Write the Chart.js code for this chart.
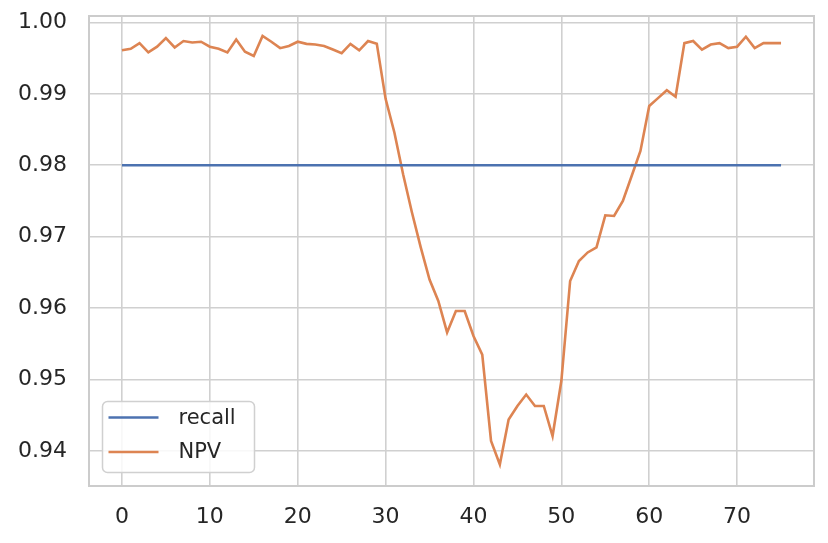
<!DOCTYPE html>
<html>
<head>
<meta charset="utf-8">
<script src="https://cdn.jsdelivr.net/npm/chart.js@4"></script>
<style>
  html, body { margin: 0; padding: 0; background: #ffffff; }
  #wrap { width: 828px; height: 543px; position: relative; }
</style>
</head>
<body>
<div id="wrap"><canvas id="chart"></canvas></div>
<script>
// values
const npv = [
  0.9961, 0.9963, 0.9971, 0.9958, 0.9966, 0.9978, 0.9965, 0.9974, 0.9972, 0.9973,
  0.9966, 0.9963, 0.9958, 0.9976, 0.9959, 0.9953, 0.9981, 0.9973, 0.9964, 0.9967,
  0.9973, 0.9970, 0.9969, 0.9967, 0.9962, 0.9957, 0.9970, 0.9961, 0.9974, 0.9970,
  0.9893, 0.9846, 0.9787, 0.9734, 0.9685, 0.9640, 0.9610, 0.9566, 0.9596, 0.9596,
  0.9561, 0.9535, 0.9414, 0.9381, 0.9444, 0.9463, 0.9479, 0.9463, 0.9463, 0.9421,
  0.9498, 0.9638, 0.9666, 0.9678, 0.9685, 0.9730, 0.9729, 0.9750, 0.9785, 0.9820,
  0.9883, 0.9894, 0.9905, 0.9896, 0.9971, 0.9974, 0.9962, 0.9969, 0.9971, 0.9964,
  0.9966, 0.9980, 0.9964, 0.9971, 0.9971, 0.9971
];
const recall = [
  0.98, 0.98, 0.98, 0.98, 0.98, 0.98, 0.98, 0.98, 0.98, 0.98,
  0.98, 0.98, 0.98, 0.98, 0.98, 0.98, 0.98, 0.98, 0.98, 0.98,
  0.98, 0.98, 0.98, 0.98, 0.98, 0.98, 0.98, 0.98, 0.98, 0.98,
  0.98, 0.98, 0.98, 0.98, 0.98, 0.98, 0.98, 0.98, 0.98, 0.98,
  0.98, 0.98, 0.98, 0.98, 0.98, 0.98, 0.98, 0.98, 0.98, 0.98,
  0.98, 0.98, 0.98, 0.98, 0.98, 0.98, 0.98, 0.98, 0.98, 0.98,
  0.98, 0.98, 0.98, 0.98, 0.98, 0.98, 0.98, 0.98, 0.98, 0.98,
  0.98, 0.98, 0.98, 0.98, 0.98, 0.98
];
const xTicks = [0, 10, 20, 30, 40, 50, 60, 70];
const yTicks = [0.94, 0.95, 0.96, 0.97, 0.98, 0.99, 1.00];

const epochs = npv.map((_, i) => i);
const toPoints = (arr) => arr.map((v, i) => ({ x: epochs[i], y: v }));

const FONT = "'DejaVu Sans', sans-serif";
const TEXT = "#262626";
const GRID = "#d0d0d0";

// full box around the plot area, like the matplotlib spines
const framePlugin = {
  id: "frame",
  beforeDatasetsDraw(chart) {
    const { ctx, chartArea: a } = chart;
    ctx.save();
    ctx.strokeStyle = "#cccccc";
    ctx.lineWidth = 2;
    ctx.strokeRect(a.left, a.top, a.right - a.left, a.bottom - a.top);
    ctx.restore();
  },
};

// legend box in the lower left corner of the plot
const innerLegend = {
  id: "innerLegend",
  afterDatasetsDraw(chart) {
    const { ctx, chartArea: a } = chart;
    const x = a.left + 13.5;
    const y = a.bottom - 84.5;
    const w = 152, h = 71, r = 5;
    ctx.save();
    ctx.beginPath();
    ctx.roundRect(x, y, w, h, r);
    ctx.fillStyle = "rgba(255,255,255,0.85)";
    ctx.fill();
    ctx.strokeStyle = "#d0d0d0";
    ctx.lineWidth = 1.5;
    ctx.stroke();
    ctx.font = "21px " + FONT;
    ctx.textBaseline = "middle";
    ctx.fillStyle = TEXT;
    chart.data.datasets.forEach((ds, i) => {
      const ly = y + 16 + i * 34.5;
      ctx.beginPath();
      ctx.moveTo(x + 6, ly);
      ctx.lineTo(x + 56, ly);
      ctx.strokeStyle = ds.borderColor;
      ctx.lineWidth = ds.borderWidth;
      ctx.stroke();
      ctx.fillText(ds.label, x + 76, ly + 1);
    });
    ctx.restore();
  },
};

new Chart(document.getElementById("chart"), {
  type: "line",
  data: {
    datasets: [
      {
        label: "recall",
        data: toPoints(recall),
        borderColor: "#4c72b0",
        borderWidth: 2.6,
        pointRadius: 0,
        tension: 0,
      },
      {
        label: "NPV",
        data: toPoints(npv),
        borderColor: "#dd8452",
        borderWidth: 2.6,
        pointRadius: 0,
        tension: 0,
      },
    ],
  },
  options: {
    responsive: true,
    maintainAspectRatio: false,
    animation: false,
    layout: { padding: { top: 16, right: 14, left: 0, bottom: 0 } },
    plugins: {
      legend: { display: false },
      tooltip: { enabled: false },
    },
    scales: {
      x: {
        type: "linear",
        min: -3.75,
        max: 78.75,
        afterBuildTicks: (scale) => {
          scale.ticks = xTicks.map((v) => ({ value: v }));
        },
        afterFit: (scale) => {
          scale.height = 57;
          scale.paddingLeft = 0;
          scale.paddingRight = 0;
        },
        grid: { color: GRID, lineWidth: 1.6, drawTicks: false },
        border: { display: false },
        ticks: {
          color: TEXT,
          font: { family: FONT, size: 22 },
          padding: 18,
          maxRotation: 0,
          callback: (v) => String(v),
        },
      },
      y: {
        type: "linear",
        min: 0.9351,
        max: 1.0009,
        afterBuildTicks: (scale) => {
          scale.ticks = yTicks.map((v) => ({ value: v }));
        },
        afterFit: (scale) => {
          scale.width = 89;
          scale.paddingTop = 0;
          scale.paddingBottom = 0;
        },
        grid: { color: GRID, lineWidth: 1.6, drawTicks: false },
        border: { display: false },
        ticks: {
          color: TEXT,
          font: { family: FONT, size: 22 },
          padding: 22,
          callback: (v) => v.toFixed(2),
        },
      },
    },
  },
  plugins: [framePlugin, innerLegend],
});
</script>
</body>
</html>
